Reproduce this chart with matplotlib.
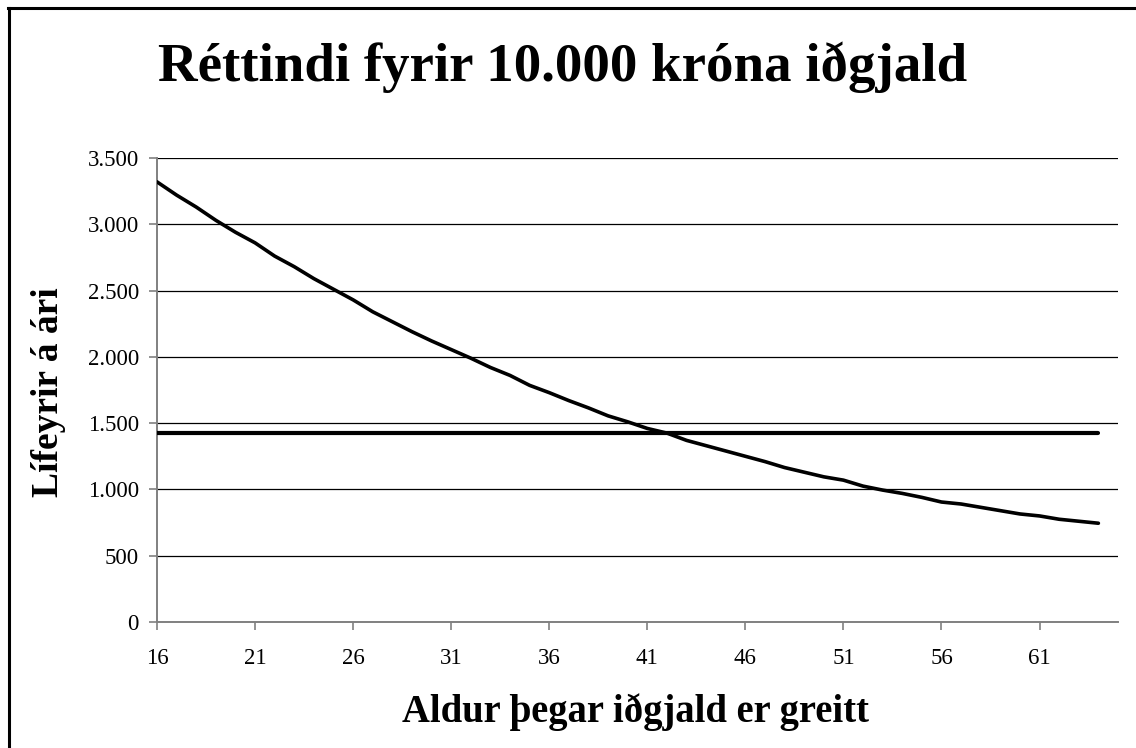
import matplotlib
matplotlib.use('Agg')
from matplotlib import pyplot as plt
from matplotlib.lines import Line2D

plt.rcParams['font.family'] = ['Liberation Serif', 'DejaVu Serif']

# age when premium is paid
ages = list(range(16, 65))
# yearly pension per 10.000 kr premium
pension = [3320, 3220, 3130, 3030, 2940, 2860, 2760, 2680, 2590, 2510,
           2430, 2340, 2265, 2190, 2120, 2055, 1990, 1920, 1860, 1785,
           1730, 1670, 1615, 1555, 1510, 1460, 1425, 1370, 1330, 1290,
           1250, 1210, 1165, 1130, 1095, 1070, 1025, 995, 970, 940,
           905, 890, 865, 840, 815, 800, 775, 760, 745]
# flat rights
flat = [1425] * len(ages)

xticks = [16, 21, 26, 31, 36, 41, 46, 51, 56, 61]
yticks = [0, 500, 1000, 1500, 2000, 2500, 3000, 3500]
ytick_labels = ['0', '500', '1.000', '1.500', '2.000', '2.500', '3.000', '3.500']

fig = plt.figure(figsize=(11.36, 7.48), dpi=100)
ax = fig.add_axes([157/1136, 1 - 622/748, (1118-157)/1136, (622-158)/748])

ax.plot(ages, flat, color='black', linewidth=3.0, solid_capstyle='round', zorder=3)
ax.plot(ages, pension, color='black', linewidth=2.6, solid_capstyle='round', zorder=4)

ax.set_xlim(16, 65)
ax.set_ylim(0, 3500)
ax.set_xticks(xticks)
ax.set_xticklabels([str(t) for t in xticks], fontsize=16.5)
ax.set_yticks(yticks)
ax.set_yticklabels(ytick_labels, fontsize=16.5)
ax.yaxis.grid(True, color='black', linewidth=0.9)
ax.set_axisbelow(True)

for s in ['top', 'right']:
    ax.spines[s].set_visible(False)
for s in ['left', 'bottom']:
    ax.spines[s].set_color('#808080')
    ax.spines[s].set_linewidth(1.4)
ax.tick_params(axis='both', colors='#808080', length=6, width=1.2, labelcolor='black')
ax.tick_params(axis='y', pad=7)
ax.tick_params(axis='x', pad=13)

fig.text(563/1136, 1 - 67/748, 'Réttindi fyrir 10.000 króna iðgjald', ha='center', va='center',
         fontsize=39.5, fontweight='bold')
fig.text(636/1136, 1 - 712/748, 'Aldur þegar iðgjald er greitt', ha='center', va='center',
         fontsize=27.8, fontweight='bold')
fig.text(48/1136, 1 - 392/748, 'Lífeyrir á ári', ha='center', va='center', rotation=90,
         fontsize=27, fontweight='bold')

# outer frame (top and left edges visible)
fig.add_artist(Line2D([9/1136, 9/1136], [0, 1 - 8/748], transform=fig.transFigure,
                      color='black', linewidth=2.2))
fig.add_artist(Line2D([8/1136, 1], [1 - 8/748, 1 - 8/748], transform=fig.transFigure,
                      color='black', linewidth=2.2))

fig.savefig('out.png', dpi=100)
